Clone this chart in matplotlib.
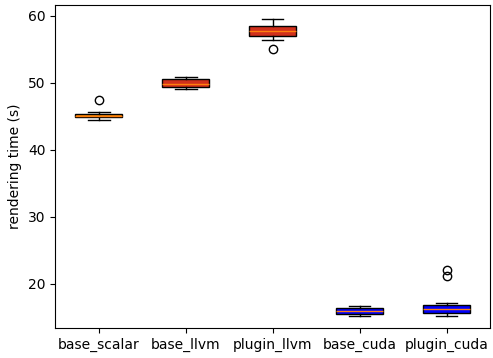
import matplotlib
matplotlib.use("Agg")
import matplotlib.pyplot as plt

labels = ["base_scalar", "base_llvm", "plugin_llvm", "base_cuda", "plugin_cuda"]
medians = [45.1, 49.8, 57.7, 15.9, 16.2]
q1 = [44.9, 49.3, 57.0, 15.5, 15.7]
q3 = [45.4, 50.5, 58.4, 16.3, 16.8]
whislo = [44.4, 49.0, 56.4, 15.2, 15.2]
whishi = [45.7, 50.9, 59.5, 16.7, 17.1]
fliers = [[47.4], [], [55.1], [], [21.2, 22.1]]
colors = ["darkorange", "#d0301c", "#d0301c", "blue", "blue"]

stats = []
for i in range(len(labels)):
    stats.append(dict(label=labels[i], med=medians[i], q1=q1[i], q3=q3[i],
                      whislo=whislo[i], whishi=whishi[i], fliers=fliers[i]))

fig = plt.figure(figsize=(4.93, 3.58), dpi=100)
ax = fig.add_axes([0.112, 0.084, 0.882, 0.902])
bp = ax.bxp(stats, patch_artist=True, widths=0.54, capwidths=0.25)
for box, c in zip(bp["boxes"], colors):
    box.set_facecolor(c)
ax.set_ylim(13.4, 61.6)
ax.set_yticks([20, 30, 40, 50, 60])
ax.set_ylabel("rendering time (s)")
fig.savefig("out.png", dpi=100)
